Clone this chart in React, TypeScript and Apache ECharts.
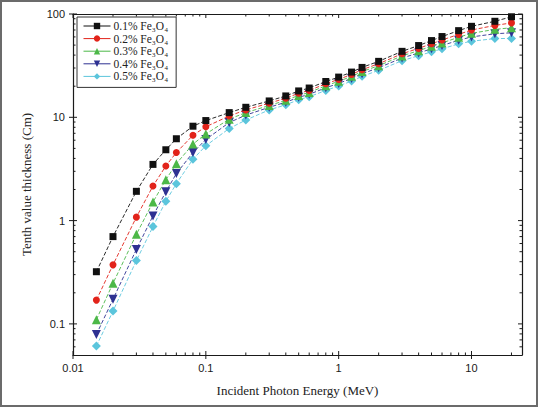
import React, { useEffect, useRef } from "react";
import * as echarts from "echarts";

const energies = [0.015, 0.02, 0.03, 0.04, 0.05, 0.06, 0.08, 0.1, 0.15, 0.2, 0.3, 0.4, 0.5, 0.6, 0.8, 1, 1.25, 1.5, 2, 3, 4, 5, 6, 8, 10, 15, 20];

const tvl01 = [0.32, 0.70, 1.92, 3.5, 4.85, 6.2, 8.2, 9.3, 11.1, 12.5, 14.4, 16.1, 18.0, 19.2, 22.2, 24.5, 27.4, 30.4, 34.8, 43.5, 49.5, 55.3, 60.5, 69, 76, 85, 94];
const tvl02 = [0.17, 0.373, 1.08, 2.16, 3.38, 4.56, 6.7, 8.1, 10.3, 11.8, 13.7, 15.3, 17.1, 18.2, 21.1, 23.3, 26.0, 28.9, 33.0, 41.2, 46.5, 51.5, 56, 63.5, 70, 77.5, 82];
const tvl03 = [0.11, 0.247, 0.736, 1.51, 2.49, 3.56, 5.5, 6.9, 9.6, 11.1, 13.0, 14.6, 16.3, 17.4, 20.2, 22.3, 24.9, 27.7, 31.6, 39.3, 44.2, 48.6, 52.5, 59.5, 65, 71, 73.6];
const tvl04 = [0.079, 0.173, 0.526, 1.11, 1.90, 2.85, 4.56, 6.1, 8.9, 10.5, 12.5, 14.0, 15.6, 16.7, 19.3, 21.3, 23.8, 26.4, 30.2, 37.5, 42, 46, 49.5, 55.7, 60, 64.3, 65.8];
const tvl05 = [0.061, 0.133, 0.41, 0.875, 1.54, 2.28, 3.93, 5.3, 7.8, 9.4, 11.8, 13.2, 14.8, 15.8, 18.2, 20.1, 22.4, 24.9, 28.5, 35.3, 39.5, 43, 46, 51.4, 54.5, 57.8, 58];

const seriesNames = ["0.1% Fe₃O₄", "0.2% Fe₃O₄", "0.3% Fe₃O₄", "0.4% Fe₃O₄", "0.5% Fe₃O₄"];

const X_MIN = 0.01;
const X_MAX = 24;
const Y_MIN = 0.05;
const Y_MAX = 100;

const xMajorTicks = [0.01, 0.1, 1, 10];
const xMinorTicks = [0.02, 0.03, 0.04, 0.05, 0.06, 0.07, 0.08, 0.09, 0.2, 0.3, 0.4, 0.5, 0.6, 0.7, 0.8, 0.9, 2, 3, 4, 5, 6, 7, 8, 9, 20];
const yMajorTicks = [0.1, 1, 10, 100];
const yMinorTicks = [0.06, 0.07, 0.08, 0.09, 0.2, 0.3, 0.4, 0.5, 0.6, 0.7, 0.8, 0.9, 2, 3, 4, 5, 6, 7, 8, 9, 20, 30, 40, 50, 60, 70, 80, 90];

const AXIS_COLOR = "#1a1a1a";

export default function App() {
  const ref = useRef<HTMLDivElement>(null);

  useEffect(() => {
    if (!ref.current) return;
    const chart = echarts.init(ref.current, null, { renderer: "svg" });

    const styles = [
      { color: "#111111", symbol: "rect", size: 7, rotate: 0 },
      { color: "#e2231a", symbol: "circle", size: 7, rotate: 0 },
      { color: "#4cb848", symbol: "triangle", size: 9, rotate: 0 },
      { color: "#2e3192", symbol: "triangle", size: 9, rotate: 180 },
      { color: "#5bc5dc", symbol: "diamond", size: 9, rotate: 0 },
    ];
    const sets = [tvl01, tvl02, tvl03, tvl04, tvl05];

    const lineSeries = sets.map((vals, i) => ({
      name: seriesNames[i],
      type: "line",
      xAxisIndex: 0,
      yAxisIndex: 0,
      data: energies.map((e, j) => [e, vals[j]]),
      symbol: styles[i].symbol,
      symbolSize: styles[i].size,
      symbolRotate: styles[i].rotate,
      showAllSymbol: true,
      itemStyle: { color: styles[i].color },
      lineStyle: { color: styles[i].color, width: 0.9, type: [4, 2] },
      z: 10 - i,
    }));

    const xTickData = [
      ...xMajorTicks.map((v) => [v, 1, 1]),
      ...xMinorTicks.map((v) => [v, 1, 0]),
    ];
    const yTickData = [
      ...yMajorTicks.map((v) => [1, v, 1]),
      ...yMinorTicks.map((v) => [1, v, 0]),
    ];

    const tickStyle = { stroke: AXIS_COLOR, lineWidth: 1 };

    const xTickSeries = {
      type: "custom",
      xAxisIndex: 0,
      yAxisIndex: 0,
      silent: true,
      clip: false,
      z: 20,
      dimensions: ["x", "y", "major"],
      encode: { x: 0, y: 1 },
      data: xTickData,
      renderItem: (params: any, api: any) => {
        const v = api.value(0);
        const major = api.value(2) === 1;
        const b = api.coord([v, Y_MIN]);
        const t = api.coord([v, Y_MAX]);
        const inLen = major ? 4 : 2.5;
        const children: any[] = [
          { type: "line", shape: { x1: b[0], y1: b[1], x2: b[0], y2: b[1] - inLen }, style: tickStyle },
          { type: "line", shape: { x1: t[0], y1: t[1], x2: t[0], y2: t[1] + inLen }, style: tickStyle },
        ];
        if (major) {
          children.push({ type: "line", shape: { x1: b[0], y1: b[1], x2: b[0], y2: b[1] + 4 }, style: tickStyle });
        }
        return { type: "group", children };
      },
    };

    const yTickSeries = {
      type: "custom",
      xAxisIndex: 0,
      yAxisIndex: 0,
      silent: true,
      clip: false,
      z: 20,
      dimensions: ["x", "y", "major"],
      encode: { x: 0, y: 1 },
      data: yTickData,
      renderItem: (params: any, api: any) => {
        const v = api.value(1);
        const major = api.value(2) === 1;
        const l = api.coord([X_MIN, v]);
        const r = api.coord([X_MAX, v]);
        const inLen = major ? 4 : 2.5;
        const children: any[] = [
          { type: "line", shape: { x1: l[0], y1: l[1], x2: l[0] + inLen, y2: l[1] }, style: tickStyle },
          { type: "line", shape: { x1: r[0], y1: r[1], x2: r[0] - inLen, y2: r[1] }, style: tickStyle },
        ];
        if (major) {
          children.push({ type: "line", shape: { x1: l[0], y1: l[1], x2: l[0] - 4, y2: l[1] }, style: tickStyle });
        }
        return { type: "group", children };
      },
    };

    const axisLabelStyle = {
      color: AXIS_COLOR,
      fontFamily: "Liberation Sans, Arial, sans-serif",
      fontSize: 11,
    };

    chart.setOption({
      animation: false,
      backgroundColor: "#ffffff",
      grid: { left: 73, right: 16, top: 14, bottom: 52, containLabel: false },
      legend: {
        data: seriesNames,
        orient: "vertical",
        left: 77,
        top: 17,
        itemWidth: 27,
        itemHeight: 8,
        itemGap: 0.6,
        padding: [3, 8, 5, 6],
        borderColor: "#333333",
        borderWidth: 1,
        backgroundColor: "#ffffff",
        lineStyle: { type: "solid", width: 1 },
        textStyle: {
          fontFamily: "Liberation Serif, Times New Roman, serif",
          fontSize: 11.5,
          lineHeight: 12,
          color: "#222222",
          padding: [0, 0, 0, -2],
        },
      },
      xAxis: [
        {
          type: "log",
          logBase: 10,
          min: X_MIN,
          max: X_MAX,
          position: "bottom",
          name: "Incident Photon Energy (MeV)",
          nameLocation: "middle",
          nameGap: 29,
          nameTextStyle: {
            fontFamily: "Liberation Serif, Times New Roman, serif",
            fontSize: 13,
            color: "#222222",
          },
          axisLine: { show: true, lineStyle: { color: AXIS_COLOR, width: 1.2 } },
          axisTick: { show: false },
          minorTick: { show: false },
          splitLine: { show: false },
          axisLabel: {
            ...axisLabelStyle,
            margin: 7,
            showMinLabel: true,
            showMaxLabel: false,
            formatter: (v: number) => String(v),
          },
        },
        {
          type: "log",
          logBase: 10,
          min: X_MIN,
          max: X_MAX,
          position: "top",
          axisLine: { show: true, lineStyle: { color: AXIS_COLOR, width: 1.2 } },
          axisTick: { show: false },
          axisLabel: { show: false },
          splitLine: { show: false },
        },
      ],
      yAxis: [
        {
          type: "log",
          logBase: 10,
          min: Y_MIN,
          max: Y_MAX,
          position: "left",
          name: "Tenth value thickness (Cm)",
          nameLocation: "middle",
          nameGap: 40,
          nameTextStyle: {
            fontFamily: "Liberation Serif, Times New Roman, serif",
            fontSize: 13,
            color: "#222222",
          },
          axisLine: { show: true, lineStyle: { color: AXIS_COLOR, width: 1.2 } },
          axisTick: { show: false },
          minorTick: { show: false },
          splitLine: { show: false },
          axisLabel: {
            ...axisLabelStyle,
            margin: 8,
            showMinLabel: false,
            showMaxLabel: true,
            formatter: (v: number) => String(v),
          },
        },
        {
          type: "log",
          logBase: 10,
          min: Y_MIN,
          max: Y_MAX,
          position: "right",
          axisLine: { show: true, lineStyle: { color: AXIS_COLOR, width: 1.2 } },
          axisTick: { show: false },
          axisLabel: { show: false },
          splitLine: { show: false },
        },
      ],
      series: [...lineSeries, xTickSeries, yTickSeries],
    });

    return () => {
      chart.dispose();
    };
  }, []);

  return (
    <div style={{ position: "fixed", left: 0, top: 0, width: 538, height: 407 }}>
      <div ref={ref} style={{ position: "absolute", left: 0, top: 0, width: 538, height: 407 }} />
      <div
        style={{
          position: "absolute",
          left: 0,
          top: 0,
          width: 538,
          height: 407,
          boxSizing: "border-box",
          border: "2px solid #6b6b6b",
          pointerEvents: "none",
        }}
      />
    </div>
  );
}
